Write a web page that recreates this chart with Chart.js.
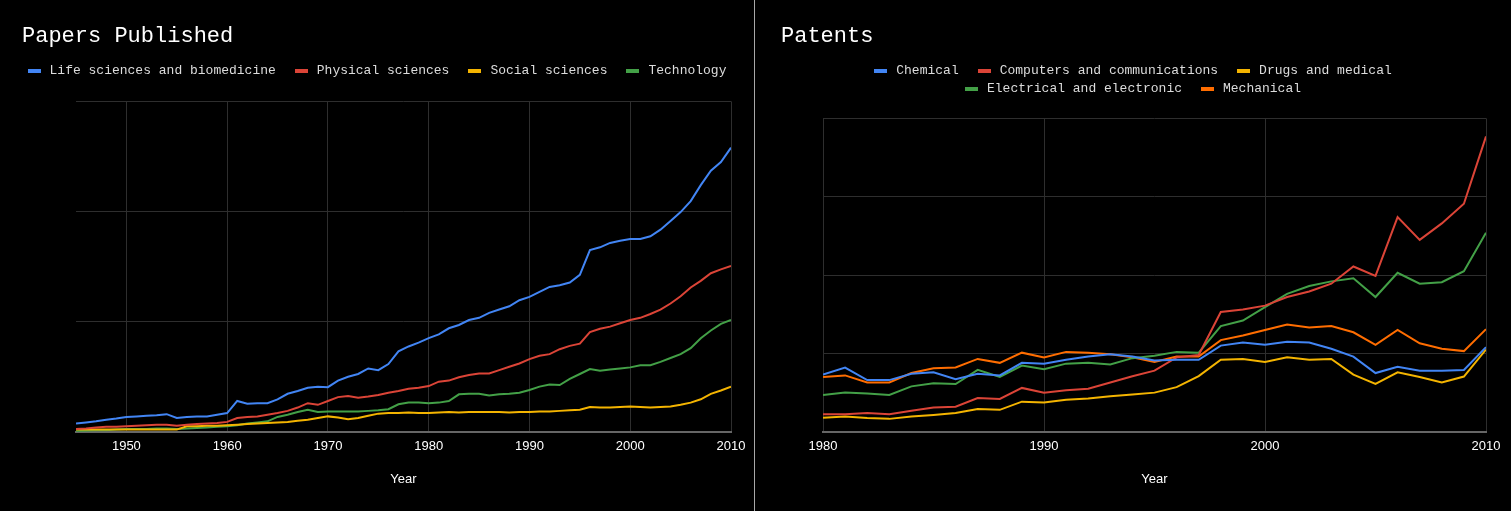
<!DOCTYPE html>
<html>
<head>
<meta charset="utf-8">
<title>Papers Published / Patents</title>
<script src="https://cdn.jsdelivr.net/npm/chart.js@4.4.1/dist/chart.umd.min.js"></script>
<style>
  html, body { margin: 0; padding: 0; background: #000; }
  #wrap { position: relative; width: 1511px; height: 511px; background: #000; overflow: hidden; }
  .panel { position: absolute; top: 0; height: 511px; }
  #left { left: 0; width: 754px; }
  #right { left: 755px; width: 756px; }
  #divider { position: absolute; left: 754px; top: 0; width: 1px; height: 511px; background: #a8a8a8; }
</style>
</head>
<body>
<div id="wrap">
  <div class="panel" id="left"><canvas id="papersChart"></canvas></div>
  <div id="divider"></div>
  <div class="panel" id="right"><canvas id="patentsChart"></canvas></div>
</div>
<script>
// Papers published (thousands per year), 1945-2010
const paperYears = [];
for (let y = 1945; y <= 2010; y++) paperYears.push(y);

const lifeSciences = [
  15, 17, 19, 22, 24, 27, 28, 29, 30, 32,
  25, 27, 28, 28, 31, 34, 56, 51, 52, 52,
  59, 69, 74, 80, 82, 81, 93, 100, 105, 115,
  112, 123, 146, 155, 162, 170, 177, 188, 194, 203,
  207, 216, 222, 228, 239, 245, 254, 263, 266, 271,
  285, 330, 335, 343, 347, 350, 350, 355, 367, 383,
  399, 419, 448, 474, 490, 516
];
const physicalSciences = [
  5, 6, 8, 9, 9, 10, 11, 12, 13, 13,
  11, 13, 14, 15, 16, 18, 25, 27, 28, 31,
  34, 38, 44, 52, 49, 56, 63, 65, 62, 64,
  67, 71, 74, 78, 80, 83, 91, 93, 99, 103,
  106, 106, 112, 118, 124, 132, 138, 141, 150, 156,
  160, 181, 187, 191, 197, 203, 207, 214, 222, 233,
  246, 262, 274, 288, 295, 301
];
const socialSciences = [
  4, 4, 4, 4, 4, 4, 4, 4, 4, 4,
  4, 10, 10, 11, 11, 12, 13, 14, 15, 16,
  17, 18, 20, 22, 25, 28, 26, 23, 25, 29,
  33, 34, 34, 35, 34, 34, 35, 36, 35, 36,
  36, 36, 36, 35, 36, 36, 37, 37, 38, 39,
  40, 45, 44, 44, 45, 46, 45, 44, 45, 46,
  49, 53, 59, 69, 75, 82
];
const technology = [
  1, 2, 3, 3, 4, 5, 5, 5, 6, 6,
  5, 6, 7, 8, 9, 10, 12, 15, 17, 19,
  27, 31, 36, 40, 36, 37, 37, 37, 37, 38,
  39, 41, 50, 53, 53, 52, 53, 56, 68, 69,
  69, 66, 68, 69, 71, 76, 82, 86, 85, 96,
  105, 114, 111, 113, 115, 117, 121, 121, 127, 134,
  141, 152, 170, 184, 196, 203
];

// Patents granted (thousands per year), 1980-2010
const patentYears = [];
for (let y = 1980; y <= 2010; y++) patentYears.push(y);

const chemical = [
  7.3, 8.2, 6.6, 6.6, 7.4, 7.6, 6.7, 7.4, 7.2, 8.8,
  8.7, 9.2, 9.6, 9.9, 9.6, 9.1, 9.2, 9.2, 11.0, 11.4,
  11.1, 11.5, 11.4, 10.6, 9.6, 7.5, 8.3, 7.8, 7.8, 7.9,
  10.8
];
const computers = [
  2.25, 2.25, 2.4, 2.25, 2.7, 3.1, 3.2, 4.3, 4.2, 5.6,
  5.0, 5.3, 5.5, 6.3, 7.1, 7.8, 9.5, 9.8, 15.3, 15.6,
  16.1, 17.2, 17.9, 18.9, 21.1, 19.9, 27.4, 24.5, 26.6, 29.1,
  37.7
];
const drugs = [
  1.8, 1.95, 1.75, 1.65, 1.95, 2.15, 2.4, 2.9, 2.8, 3.85,
  3.75, 4.1, 4.25, 4.55, 4.75, 5.0, 5.7, 7.1, 9.2, 9.3,
  8.9, 9.5, 9.2, 9.3, 7.3, 6.1, 7.6, 7.0, 6.3, 7.05,
  10.5
];
const electrical = [
  4.7, 5.0, 4.9, 4.7, 5.8, 6.2, 6.1, 7.9, 7.0, 8.45,
  8.0, 8.7, 8.8, 8.6, 9.4, 9.7, 10.2, 10.1, 13.5, 14.2,
  15.9, 17.6, 18.6, 19.2, 19.6, 17.2, 20.3, 18.9, 19.1, 20.5,
  25.4
];
const mechanical = [
  7.0, 7.2, 6.3, 6.3, 7.5, 8.1, 8.2, 9.3, 8.8, 10.1,
  9.5, 10.2, 10.1, 9.9, 9.5, 8.9, 9.6, 9.6, 11.7, 12.3,
  13.0, 13.7, 13.3, 13.5, 12.7, 11.1, 13.0, 11.3, 10.6, 10.3,
  13.1
];

const BLUE = "#4285f4";
const RED = "#db4437";
const YELLOW = "#f4b400";
const GREEN = "#43a047";
const ORANGE = "#ff6d00";

const MONO = "'Liberation Mono', 'DejaVu Sans Mono', monospace";
const SANS = "'Liberation Sans', Arial, sans-serif";

const BOX_W = 13;
const TEXT_GAP = 9;
const ITEM_GAP = 19;

function toPoints(years, values) {
  return years.map((x, i) => ({ x: x, y: values[i] }));
}

function series(label, color, years, values) {
  return { label: label, data: toPoints(years, values), borderColor: color, backgroundColor: color };
}

// Legend drawn in the monospace style of the original (small flat swatches, centred rows)
const monoLegend = {
  id: "monoLegend",
  afterDraw(chart, args, opts) {
    const ctx = chart.ctx;
    const items = chart.data.datasets.map((ds) => ({ text: ds.label, color: ds.borderColor }));
    ctx.save();
    ctx.font = "13px " + MONO;
    ctx.textBaseline = "middle";
    const rows = [[]];
    let rowWidth = 0;
    items.forEach((item) => {
      item.width = BOX_W + TEXT_GAP + ctx.measureText(item.text).width;
      const row = rows[rows.length - 1];
      const extra = row.length ? ITEM_GAP + item.width : item.width;
      if (row.length && rowWidth + extra > chart.width - 50) {
        rows.push([item]);
        rowWidth = item.width;
      } else {
        row.push(item);
        rowWidth += extra;
      }
    });
    rows.forEach((row, r) => {
      const total = row.reduce((s, it) => s + it.width, 0) + ITEM_GAP * (row.length - 1);
      let x = (chart.width - total) / 2;
      const y = opts.top + r * opts.rowGap;
      row.forEach((it) => {
        ctx.fillStyle = it.color;
        ctx.fillRect(Math.round(x), Math.round(y) - 2, BOX_W, 4);
        ctx.fillStyle = "#dcdcdc";
        ctx.fillText(it.text, x + BOX_W + TEXT_GAP, y);
        x += it.width + ITEM_GAP;
      });
    });
    ctx.restore();
  }
};

function makeOptions(cfg) {
  return {
    responsive: true,
    maintainAspectRatio: false,
    animation: false,
    layout: { padding: { top: 0, left: cfg.padLeft, right: cfg.padRight, bottom: 20 } },
    elements: {
      point: { radius: 0, hoverRadius: 0 },
      line: { borderWidth: 2, tension: 0 }
    },
    plugins: {
      legend: { display: false },
      tooltip: { enabled: false },
      title: {
        display: true,
        text: cfg.title,
        align: "start",
        color: "#ffffff",
        font: { family: MONO, size: 22, weight: "normal" },
        padding: { top: 23, bottom: cfg.titleBottom }
      },
      monoLegend: { top: 70.5, rowGap: 18 }
    },
    scales: {
      x: {
        type: "linear",
        min: cfg.xMin,
        max: cfg.xMax,
        ticks: {
          stepSize: 10,
          includeBounds: false,
          color: "#ffffff",
          font: { family: SANS, size: 13 },
          padding: 7,
          maxRotation: 0,
          callback: (v) => String(v)
        },
        grid: { color: "#2e2e2e", drawTicks: false },
        border: { color: "#666666", width: 2 },
        title: {
          display: true,
          text: "Year",
          color: "#ffffff",
          font: { family: SANS, size: 13 },
          padding: { top: 10, bottom: 4 }
        }
      },
      y: {
        min: 0,
        max: cfg.yMax,
        ticks: { stepSize: cfg.yStep, display: false },
        grid: { color: "#2e2e2e", drawTicks: false },
        border: { display: false },
        afterFit: (scale) => { scale.width = cfg.axisWidth; }
      }
    }
  };
}

document.addEventListener("DOMContentLoaded", function () {
  new Chart(document.getElementById("papersChart"), {
    type: "line",
    data: {
      datasets: [
        series("Life sciences and biomedicine", BLUE, paperYears, lifeSciences),
        series("Physical sciences", RED, paperYears, physicalSciences),
        series("Social sciences", YELLOW, paperYears, socialSciences),
        series("Technology", GREEN, paperYears, technology)
      ]
    },
    options: makeOptions({
      title: "Papers Published",
      xMin: 1945, xMax: 2010,
      yMax: 600, yStep: 200,
      padLeft: 22, padRight: 23, axisWidth: 54,
      titleBottom: 52
    }),
    plugins: [monoLegend]
  });

  new Chart(document.getElementById("patentsChart"), {
    type: "line",
    data: {
      datasets: [
        series("Chemical", BLUE, patentYears, chemical),
        series("Computers and communications", RED, patentYears, computers),
        series("Drugs and medical", YELLOW, patentYears, drugs),
        series("Electrical and electronic", GREEN, patentYears, electrical),
        series("Mechanical", ORANGE, patentYears, mechanical)
      ]
    },
    options: makeOptions({
      title: "Patents",
      xMin: 1980, xMax: 2010,
      yMax: 40, yStep: 10,
      padLeft: 26, padRight: 25, axisWidth: 42,
      titleBottom: 69
    }),
    plugins: [monoLegend]
  });
});
</script>
</body>
</html>
